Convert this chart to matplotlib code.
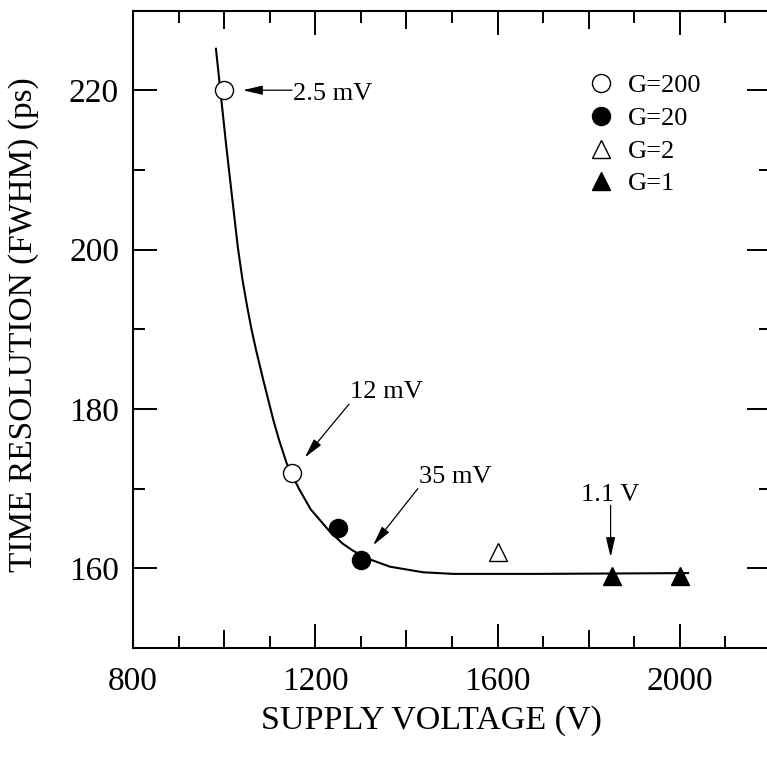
import matplotlib
matplotlib.use('Agg')
import matplotlib.pyplot as plt
from matplotlib.ticker import FixedLocator

plt.rcParams['font.family'] = ['Liberation Serif', 'DejaVu Serif']

# measured points, one list per gain setting
g200_v = [1000, 1150]
g200_t = [220, 172]
g20_v = [1250, 1300]
g20_t = [165, 161]
g2_v = [1600]
g2_t = [162]
g1_v = [1850, 2000]
g1_t = [159, 159]

# fitted curve
curve_v = [982, 992, 1005, 1020, 1030, 1040, 1050, 1060, 1070, 1086, 1108, 1120, 1137,
           1150, 1165, 1190, 1232, 1260, 1283, 1316, 1364, 1437, 1503, 1693, 2018]
curve_t = [225.2, 219.8, 212.8, 205.3, 200.3, 196.3, 193.0, 190.0, 187.4, 183.6, 178.6,
           176.2, 173.2, 171.6, 169.9, 167.4, 164.6, 163.1, 162.2, 161.2, 160.2, 159.5,
           159.3, 159.3, 159.4]

x_major = [800, 1200, 1600, 2000]
x_minor = [900, 1000, 1100, 1300, 1400, 1500, 1700, 1800, 1900, 2100]
y_major = [160, 180, 200, 220]
y_minor = [150, 170, 190, 210, 230]


def main():
  fig = plt.figure(figsize=(7.67, 7.58), dpi=100)
  ax = fig.add_axes([133/767, 110/758, 638/767, 637.5/758])

  ax.plot(curve_v, curve_t, color='black', lw=1.5, zorder=1)
  ax.plot(g200_v, g200_t, 'o', ms=13, mfc='white', mec='black', mew=1.0, label='G=200', zorder=3)
  ax.plot(g20_v, g20_t, 'o', ms=13, mfc='black', mec='black', label='G=20', zorder=3)
  ax.plot(g2_v, g2_t, '^', ms=13, mfc='white', mec='black', mew=1.0, label='G=2', zorder=3)
  ax.plot(g1_v, g1_t, '^', ms=13, mfc='black', mec='black', label='G=1', zorder=3)

  ax.set_xlim(800, 2200)
  ax.set_ylim(150, 230)
  ax.set_xticks(x_major)
  ax.xaxis.set_minor_locator(FixedLocator(x_minor))
  ax.set_yticks(y_major)
  ax.yaxis.set_minor_locator(FixedLocator(y_minor))

  ax.tick_params(which='both', direction='in', top=True, right=True, width=1.4, labelsize=24)
  ax.tick_params(which='major', length=17.5)
  ax.tick_params(which='minor', length=8.6)
  ax.tick_params(axis='x', which='major', pad=13)
  ax.tick_params(axis='y', which='major', pad=10)
  # every 200 V gets a medium tick
  for t, loc in zip(ax.xaxis.get_minor_ticks(len(x_minor)), x_minor):
    if loc % 200 == 0:
      t.tick1line.set_markersize(13)
      t.tick2line.set_markersize(13)
  for s in ax.spines.values():
    s.set_linewidth(1.5)

  ax.set_xlabel('SUPPLY VOLTAGE (V)', fontsize=24.5)
  ax.xaxis.set_label_coords(0.467, -0.09)
  ax.set_ylabel('TIME RESOLUTION (FWHM) (ps)', fontsize=24)
  ax.yaxis.set_label_coords(-0.147, 0.507)

  arr = dict(arrowstyle='-|>,head_length=1.2,head_width=0.28', color='black', lw=0.9,
             mutation_scale=10, shrinkA=0, shrinkB=0)
  ax.annotate('', xy=(1041, 220), xytext=(1149, 220), arrowprops=arr)
  ax.text(1151, 218.8, '2.5 mV', fontsize=19, ha='left', va='baseline')
  ax.annotate('', xy=(1177, 173.9), xytext=(1274, 180.6), arrowprops=arr)
  ax.text(1276, 181.4, '12 mV', fontsize=19, ha='left', va='baseline')
  ax.annotate('', xy=(1327, 162.9), xytext=(1425, 170.0), arrowprops=arr)
  ax.text(1428, 170.7, '35 mV', fontsize=19, ha='left', va='baseline')
  ax.annotate('', xy=(1848, 161.4), xytext=(1848, 167.9), arrowprops=arr)
  ax.text(1848, 168.5, '1.1 V', fontsize=19, ha='center', va='baseline')

  ax.legend(loc='upper left', bbox_to_anchor=(0.713, 0.9006), frameon=False, fontsize=19,
            handlelength=1.0, handletextpad=0.5, labelspacing=0.35, borderpad=0,
            borderaxespad=0)

  fig.savefig('out.png', dpi=100)


if __name__ == "__main__":
  main()
